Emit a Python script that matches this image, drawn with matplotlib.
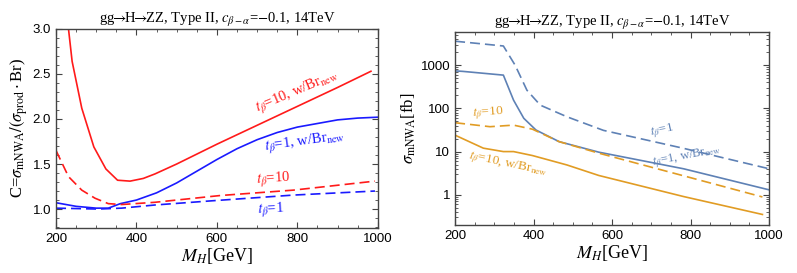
import matplotlib
matplotlib.use("Agg")
import matplotlib.pyplot as plt
from matplotlib.ticker import MultipleLocator, LogLocator, NullFormatter, FixedLocator, FixedFormatter, FormatStrFormatter
import numpy as np

plt.rcParams['mathtext.fontset'] = 'stix'
plt.rcParams['font.family'] = ['Liberation Sans', 'DejaVu Sans']

# ---------------- Left panel data: C ratio ----------------
m_red_solid = [231, 240, 264, 294, 324, 353, 384, 417, 446, 500, 550, 600, 700, 800, 900, 983]
c_red_solid = [3.0, 2.64, 2.12, 1.69, 1.445, 1.32, 1.31, 1.34, 1.39, 1.50, 1.61, 1.72, 1.93, 2.14, 2.35, 2.53]

m_blue_solid = [200, 250, 300, 330, 360, 400, 450, 500, 550, 600, 650, 700, 750, 800, 850, 900, 950, 1000]
c_blue_solid = [1.07, 1.03, 1.01, 1.01, 1.06, 1.10, 1.18, 1.29, 1.42, 1.55, 1.67, 1.77, 1.85, 1.91, 1.95, 1.99, 2.01, 2.02]

m_red_dash = [200, 231, 264, 297, 330, 363, 446, 608, 790, 993]
c_red_dash = [1.65, 1.36, 1.21, 1.12, 1.06, 1.05, 1.075, 1.15, 1.21, 1.31]

m_blue_dash = [200, 305, 363, 446, 583, 790, 993]
c_blue_dash = [1.01, 1.0, 1.01, 1.045, 1.09, 1.155, 1.20]

# ---------------- Right panel data: sigma_mNWA [fb] ----------------
m_b1_dash = [200, 323, 353, 383, 417, 485, 578, 782, 1000]
s_b1_dash = [3600, 2790, 1000, 264, 119, 64, 31, 11.9, 4.0]

m_b1_solid = [200, 220, 323, 349, 375, 406, 465, 566, 782, 1000]
s_b1_solid = [740, 720, 590, 155, 59, 31.6, 17, 9.7, 4.0, 1.30]

m_o10_dash = [200, 289, 349, 397, 465, 566, 782, 983]
s_o10_dash = [46.6, 37.7, 41, 33, 17, 9.2, 2.75, 0.89]

m_o10_solid = [200, 272, 323, 349, 397, 485, 566, 782, 983]
s_o10_solid = [24, 12, 10, 10, 8.1, 4.9, 2.8, 0.91, 0.35]

title = r"gg$\!\!\rightarrow\!\!$H$\!\!\rightarrow\!\!$ZZ, Type II, $c_{\beta-\alpha}$=$-$0.1, 14TeV"

RED = '#ff1a1a'
BLUE = '#1a1aff'
MBLUE = '#5e81b5'
MORANGE = '#e19c24'

fig = plt.figure(figsize=(7.97, 2.73), dpi=100)
axL = fig.add_axes([0.0703, 0.165, 0.4037, 0.729])
axR = fig.add_axes([0.571, 0.176, 0.394, 0.707])

serif = ['Liberation Serif', 'DejaVu Serif']

def style(ax):
    for sp in ax.spines.values():
        sp.set_color('#444444')
        sp.set_linewidth(1.0)
    ax.tick_params(which='both', direction='in', top=True, right=True, colors='#444444',
                   labelcolor='black', labelsize=9.5)
    ax.tick_params(which='major', length=4, width=0.8)
    ax.tick_params(which='minor', length=2, width=0.6)

# Left
axL.plot(m_red_solid, c_red_solid, color=RED, lw=1.2)
axL.plot(m_blue_solid, c_blue_solid, color=BLUE, lw=1.2)
axL.plot(m_red_dash, c_red_dash, color=RED, lw=1.2, dashes=(6, 3))
axL.plot(m_blue_dash, c_blue_dash, color=BLUE, lw=1.2, dashes=(6, 3))
axL.set_xlim(200, 1000)
axL.set_ylim(0.79, 3.0)
axL.xaxis.set_major_locator(MultipleLocator(200))
axL.xaxis.set_minor_locator(MultipleLocator(50))
axL.yaxis.set_major_locator(MultipleLocator(0.5))
axL.yaxis.set_minor_locator(MultipleLocator(0.1))
axL.yaxis.set_major_formatter(FormatStrFormatter('%.1f'))
style(axL)
axL.set_title(title, fontsize=10.5, family=serif, pad=4)
axL.set_xlabel(r"$M_H$[GeV]", fontsize=13, family=serif, labelpad=1)
axL.set_ylabel(r"C=$\sigma_{\rm mNWA}/(\sigma_{\rm prod}\cdot$Br)", fontsize=12, family=serif, labelpad=2)

axL.text(800, 2.29, r"$t_\beta$=10, w/Br$_{\rm new}$", color=RED, fontsize=10.5, family=serif,
         rotation=23, ha='center', va='center')
axL.text(820, 1.74, r"$t_\beta$=1, w/Br$_{\rm new}$", color=BLUE, fontsize=10.5, family=serif,
         rotation=8, ha='center', va='center')
axL.text(740, 1.32, r"$t_\beta$=10", color=RED, fontsize=10.5, family=serif,
         rotation=4, ha='center', va='center')
axL.text(734, 0.99, r"$t_\beta$=1", color=BLUE, fontsize=10.5, family=serif,
         rotation=3, ha='center', va='center')

# Right
axR.plot(m_b1_dash, s_b1_dash, color=MBLUE, lw=1.2, dashes=(6, 3))
axR.plot(m_b1_solid, s_b1_solid, color=MBLUE, lw=1.2)
axR.plot(m_o10_dash, s_o10_dash, color=MORANGE, lw=1.2, dashes=(6, 3))
axR.plot(m_o10_solid, s_o10_solid, color=MORANGE, lw=1.2)
axR.set_yscale('log')
axR.set_xlim(200, 1000)
axR.set_ylim(0.2, 5900)
axR.xaxis.set_major_locator(MultipleLocator(200))
axR.xaxis.set_minor_locator(MultipleLocator(50))
axR.yaxis.set_major_locator(FixedLocator([1, 10, 100, 1000]))
axR.yaxis.set_major_formatter(FixedFormatter(['1', '10', '100', '1000']))
axR.yaxis.set_minor_locator(LogLocator(base=10, subs=np.arange(2, 10) * 1.0, numticks=20))
axR.yaxis.set_minor_formatter(NullFormatter())
style(axR)
axR.set_title(title, fontsize=10.5, family=serif, pad=4)
axR.set_xlabel(r"$M_H$[GeV]", fontsize=13, family=serif, labelpad=1)
axR.set_ylabel(r"$\sigma_{\rm mNWA}$[fb]", fontsize=12, family=serif, labelpad=2)

axR.text(727, 30, r"$t_\beta$=1", color=MBLUE, fontsize=9.5, family=serif,
         rotation=12, ha='center', va='center')
axR.text(790, 7.6, r"$t_\beta$=1, w/Br$_{\rm new}$", color=MBLUE, fontsize=9, family=serif,
         rotation=11, ha='center', va='center')
axR.text(284, 78, r"$t_\beta$=10", color=MORANGE, fontsize=9.5, family=serif,
         rotation=4, ha='center', va='center')
axR.text(335, 5.0, r"$t_\beta$=10, w/Br$_{\rm new}$", color=MORANGE, fontsize=9.5, family=serif,
         rotation=-12, ha='center', va='center')

fig.savefig('out.png', dpi=100)
